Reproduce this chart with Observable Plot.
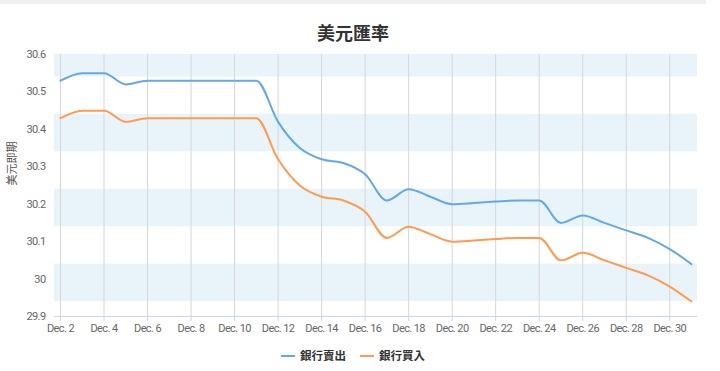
<!DOCTYPE html>
<html><head><meta charset="utf-8">
<script src="https://cdn.jsdelivr.net/npm/d3@7"></script>
<script src="https://cdn.jsdelivr.net/npm/@observablehq/plot@0.6"></script>
<style>
body{margin:0;background:#fff;font-family:"Noto Sans CJK TC","Noto Sans",sans-serif;}
#wrap{width:706px;}
#strip{height:4px;background:#eeeeee;}
#title{text-align:center;font-size:18px;font-weight:bold;color:#333;height:22px;line-height:20px;padding-top:18px;}
#legend{text-align:center;font-size:11.5px;font-weight:bold;color:#333;padding-top:8px;line-height:14px;}
#legend .item{display:inline-block;margin:0 7px;}
#legend .sw{display:inline-block;width:14px;height:2px;vertical-align:middle;margin-right:5px;position:relative;top:-1px;}
svg g[aria-label="x-axis tick label"] text, svg g[aria-label="y-axis tick label"] text{letter-spacing:-0.6px;}
</style></head>
<body>
<div id="wrap">
<div id="strip"></div>
<div id="title"></div>
<div id="chart"></div>
<div id="legend"></div>
</div>
<script>
const title = "美元匯率";
const yLabel = "美元即期";
const seriesNames = ["銀行賣出", "銀行買入"];
const seriesColors = ["#64a8e6", "#ff9a4f"];
const days = [2,3,4,5,6,7,8,9,10,11,12,13,14,15,16,17,18,19,20,21,22,23,24,25,26,27,28,29,30,31];
const sell = [30.53,30.55,30.55,30.52,30.53,30.53,30.53,30.53,30.53,30.53,30.42,30.35,30.32,30.31,30.28,30.21,30.24,30.22,30.20,30.203,30.207,30.21,30.21,30.15,30.17,30.15,30.13,30.11,30.08,30.04];
const buy  = [30.43,30.45,30.45,30.42,30.43,30.43,30.43,30.43,30.43,30.43,30.32,30.25,30.22,30.21,30.18,30.11,30.14,30.12,30.10,30.103,30.107,30.11,30.11,30.05,30.07,30.05,30.03,30.01,29.98,29.94];
const xTicks = [2,4,6,8,10,12,14,16,18,20,22,24,26,28,30];
const yTicks = [29.9,30.0,30.1,30.2,30.3,30.4,30.5,30.6];
const bandLo = [29.94,30.14,30.34,30.54];
const bandHi = [30.04,30.24,30.44,30.6];

document.getElementById("title").textContent = title;

const rows = [];
days.forEach((d,i)=>{
  rows.push({day:d, v:sell[i], s:seriesNames[0]});
  rows.push({day:d, v:buy[i], s:seriesNames[1]});
});
const bands = bandLo.map((lo,i)=>({lo, hi:bandHi[i]}));

const tickFont = "Roboto,'Liberation Sans',sans-serif";

const chart = Plot.plot({
  width: 706,
  height: 296,
  marginTop: 10,
  marginBottom: 24,
  marginLeft: 54,
  marginRight: 9,
  style: {fontFamily: tickFont, fontSize: "11px", color: "#666", background: "#fff"},
  x: {type: "linear", domain: [days[0], days[days.length-1]], insetLeft: 6, insetRight: 6},
  y: {domain: [yTicks[0], yTicks[yTicks.length-1]]},
  color: {domain: seriesNames, range: seriesColors},
  marks: [
    Plot.rect(bands, {y1: "lo", y2: "hi", fill: "#e9f4fa"}),
    Plot.ruleX(xTicks, {stroke: "#d6d6d6", strokeWidth: 1}),
    Plot.ruleY([yTicks[0]], {stroke: "#ccd6eb", strokeWidth: 1}),
    Plot.line(rows, {x: "day", y: "v", z: "s", stroke: "s", strokeWidth: 2, curve: "monotone-x"}),
    Plot.axisX({ticks: xTicks, tickSize: 5, tickPadding: 3, stroke: "#ccd6eb", fill: "#666", tickFormat: d => "Dec. " + d, label: null}),
    Plot.axisY({ticks: yTicks, tickSize: 0, tickPadding: 9, fill: "#666", tickFormat: d => String(+d.toFixed(1)), label: null}),
    Plot.text([yLabel], {frameAnchor: "left", rotate: -90, dx: -42, fill: "#555", fontSize: 11, fontFamily: "'Noto Sans CJK TC',sans-serif", text: d => d})
  ]
});
document.getElementById("chart").appendChild(chart);

const leg = document.getElementById("legend");
seriesNames.forEach((n,i)=>{
  const it = document.createElement("span");
  it.className = "item";
  const sw = document.createElement("span");
  sw.className = "sw";
  sw.style.background = seriesColors[i];
  it.appendChild(sw);
  it.appendChild(document.createTextNode(n));
  leg.appendChild(it);
});
</script>
</body></html>
